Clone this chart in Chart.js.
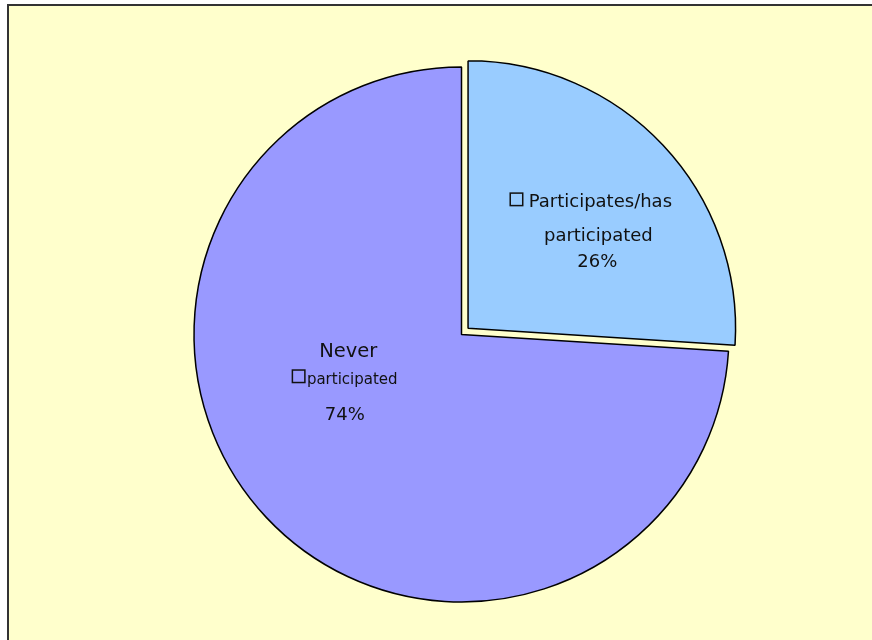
<!DOCTYPE html>
<html>
<head>
<meta charset="utf-8">
<script src="https://cdn.jsdelivr.net/npm/chart.js@4/dist/chart.umd.min.js"></script>
<style>
html,body{margin:0;padding:0;background:#fff;overflow:hidden;}
canvas{display:block;}
</style>
</head>
<body>
<canvas id="c" width="872" height="640" style="width:872px;height:640px"></canvas>
<script>
// ---- data ----
const categories = ["Participates/has participated", "Never participated"];
const values = [26, 74];
// label lines per slice (text shown inside the slice; "[]" marks a legend-style box prefix)
const labelLines = [
  ["[] Participates/has", "participated", "26%"],
  ["Never", "[]participated", "74%"]
];
const sliceColors = ["#99CCFF", "#9999FF"];
// Chart.js v4 moves an arc by offset/4, so 36 gives ~9px explosion
const sliceOffsets = [36, 0];

// ---- label placement styles ----
const labelStyle = [
  { angleFrac: 0.575, radiusFrac: 0.62,
    lines: [ {dx:-4.5, dy:-30, size:18}, {dx:3, dy:4, size:18}, {dx:2, dy:30, size:18} ] },
  { angleFrac: 0.576, radiusFrac: 0.47,
    lines: [ {dx:2.5, dy:-27, size:19.5}, {dx:-1, dy:0, size:15}, {dx:-1, dy:36, size:18} ] }
];

const framePlugin = {
  id: 'frame',
  beforeDraw(chart) {
    const ctx = chart.ctx;
    ctx.save();
    ctx.fillStyle = '#ffffff';
    ctx.fillRect(0, 0, chart.width, chart.height);
    ctx.fillStyle = '#FFFFCC';
    ctx.fillRect(8, 5, chart.width, chart.height);
    ctx.strokeStyle = '#333333';
    ctx.lineWidth = 2;
    ctx.beginPath();
    ctx.moveTo(8, chart.height + 2);
    ctx.lineTo(8, 5);
    ctx.lineTo(chart.width + 2, 5);
    ctx.stroke();
    ctx.restore();
  }
};

const labelPlugin = {
  id: 'sliceLabels',
  afterDatasetsDraw(chart) {
    const ctx = chart.ctx;
    const meta = chart.getDatasetMeta(0);
    meta.data.forEach((arc, i) => {
      const st = labelStyle[i];
      const p = arc.getProps(['x','y','startAngle','endAngle','outerRadius'], true);
      const ang = p.startAngle + st.angleFrac * (p.endAngle - p.startAngle);
      const ax = p.x + Math.cos(ang) * st.radiusFrac * p.outerRadius;
      const ay = p.y + Math.sin(ang) * st.radiusFrac * p.outerRadius;
      ctx.save();
      ctx.fillStyle = '#111111';
      ctx.strokeStyle = '#111111';
      ctx.textBaseline = 'alphabetic';
      labelLines[i].forEach((txt, j) => {
        const ls = st.lines[j];
        ctx.font = ls.size + 'px "DejaVu Sans"';
        let hasBox = txt.startsWith('[]');
        let t = hasBox ? txt.slice(2) : txt;
        let lead = 0;
        if (hasBox && t.startsWith(' ')) { t = t.slice(1); lead = 6; }
        const boxW = hasBox ? 13 : 0;
        const tw = ctx.measureText(t).width;
        const total = boxW + lead + (hasBox && lead === 0 ? 2 : 0) + tw;
        const cx = ax + ls.dx;
        const by = ay + ls.dy;
        let x = cx - total / 2;
        if (hasBox) {
          ctx.lineWidth = 1.5;
          ctx.strokeRect(x + 0.5, by - 13.5, 12.5, 12.5);
          x += boxW + (lead === 0 ? 2 : lead);
        }
        ctx.textAlign = 'left';
        ctx.fillText(t, x, by);
      });
      ctx.restore();
    });
  }
};

new Chart(document.getElementById('c'), {
  type: 'pie',
  data: {
    labels: categories,
    datasets: [{
      data: values,
      backgroundColor: sliceColors,
      borderColor: '#000000',
      borderWidth: 1.5,
      offset: sliceOffsets
    }]
  },
  options: {
    responsive: false,
    animation: false,
    devicePixelRatio: 1,
    rotation: 0,
    layout: { padding: { left: 175.25, right: 124.25, top: 48.25, bottom: 19.25 } },
    plugins: { legend: { display: false }, tooltip: { enabled: false }, title: { display: false } }
  },
  plugins: [framePlugin, labelPlugin]
});
</script>
</body>
</html>
